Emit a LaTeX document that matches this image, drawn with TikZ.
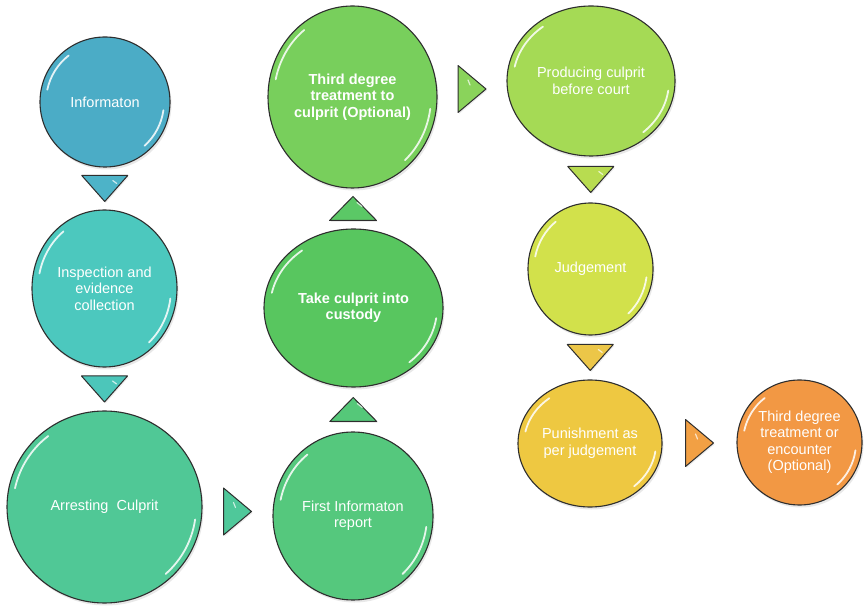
\documentclass[tikz,border=0pt]{standalone}
\usepackage{fontspec}
\setmainfont{Liberation Sans}
\usetikzlibrary{shapes.geometric,shadows,calc}
\definecolor{cA}{HTML}{4BACC6}
\definecolor{cB}{HTML}{4CC8BE}
\definecolor{cC}{HTML}{50C896}
\definecolor{cD}{HTML}{55C87D}
\definecolor{cE}{HTML}{58C65F}
\definecolor{cF}{HTML}{78CF5C}
\definecolor{cG}{HTML}{A5DA55}
\definecolor{cH}{HTML}{D2E14B}
\definecolor{cI}{HTML}{EEC841}
\definecolor{cJ}{HTML}{F29844}
\definecolor{tA}{HTML}{4DB3C8}
\definecolor{tB}{HTML}{4CC6BA}
\definecolor{tC}{HTML}{4FC89A}
\definecolor{tD}{HTML}{55C879}
\definecolor{tE}{HTML}{5BC866}
\definecolor{tF}{HTML}{8AD35B}
\definecolor{tG}{HTML}{B8DC50}
\definecolor{tH}{HTML}{ECC648}
\definecolor{tI}{HTML}{F2A044}
\definecolor{edge}{HTML}{2E2E2E}
\tikzset{
  stepnode/.style={ellipse, draw=edge, line width=1.1pt, inner sep=0pt,
    text=white, align=center,
    font=\fontsize{14.5}{16.5}\selectfont,
    drop shadow={opacity=0.18, shadow xshift=1.5pt, shadow yshift=-2.5pt}},
  boldtext/.style={font=\fontsize{14.5}{16.5}\selectfont\bfseries},
  tri/.style={draw=edge, line width=1pt, line join=round,
    drop shadow={opacity=0.15, shadow xshift=1pt, shadow yshift=-1.5pt}},
  hl/.style={white, opacity=0.85, line width=1.8pt, line cap=round},
  thl/.style={white, opacity=0.7, line width=1.2pt, line cap=round},
  pics/tdown/.style={code={\draw[tri,fill=#1] (-23,13) -- (23,13) -- (0,-13) -- cycle;
      \draw[thl] (8,8) -- (12,5);}},
  pics/tup/.style={code={\draw[tri,fill=#1] (-23.5,-12) -- (23.5,-12) -- (0,12) -- cycle;
      \draw[thl] (4,6) -- (9,2);}},
  pics/tright/.style={code={\draw[tri,fill=#1] (-14,23.5) -- (14,0) -- (-14,-23.5) -- cycle;
      \draw[thl] (-4,9) -- (-2,4);}},
}
\begin{document}
\begin{tikzpicture}[x=1pt,y=1pt]
\useasboundingbox (0,0) rectangle (864,605);
\fill[white] (0,0) rectangle (864,605);

\node[stepnode, fill=cA, minimum width=130pt, minimum height=130pt] (n1) at (105,503) {Informaton};
\node[stepnode, fill=cB, minimum width=145pt, minimum height=157pt] (n2) at (104.5,316.5) {Inspection and\\evidence\\collection};
\node[stepnode, fill=cC, minimum width=195pt, minimum height=192pt] (n3) at (104.5,98) {Arresting\ \ Culprit};
\node[stepnode, fill=cD, minimum width=160pt, minimum height=168pt] (n4) at (353,89) {First Informaton\\report};
\node[stepnode, boldtext, fill=cE, minimum width=179pt, minimum height=158pt] (n5) at (353.5,297) {Take culprit into\\custody};
\node[stepnode, boldtext, fill=cF, minimum width=169pt, minimum height=182pt] (n6) at (352.5,508) {Third degree\\treatment to\\culprit (Optional)};
\node[stepnode, fill=cG, minimum width=168pt, minimum height=150pt] (n7) at (591,524) {Producing culprit\\before court};
\node[stepnode, fill=cH, minimum width=125pt, minimum height=132pt] (n8) at (590.5,336) {Judgement};
\node[stepnode, fill=cI, minimum width=144pt, minimum height=127pt] (n9) at (590,161.5) {Punishment as\\per judgement};
\node[stepnode, fill=cJ, minimum width=125pt, minimum height=125pt] (n10) at (799.5,162.5) {Third degree\\treatment or\\encounter\\(Optional)};

% glossy highlights
\foreach \n/\a/\b in {n1/65/65, n2/72.5/78.5, n3/97.5/96, n4/80/84, n5/89.5/79, n6/84.5/91, n7/84/75, n8/62.5/66, n9/72/63.5, n10/62.5/62.5}{
  \pgfmathsetmacro\ra{\a-6}
  \pgfmathsetmacro\rb{\b-6}
  \draw[hl] ($(\n.center)+({\ra*cos(168)},{\rb*sin(168)})$)
     arc[start angle=168, end angle=128, x radius=\ra, y radius=\rb];
  \draw[hl] ($(\n.center)+({\ra*cos(-8)},{\rb*sin(-8)})$)
     arc[start angle=-8, end angle=-48, x radius=\ra, y radius=\rb];
}

% triangle connectors
\pic (t1) at ($(n1.south)!0.5!(n2.north)$) {tdown=tA};
\pic (t2) at ($(n2.south)!0.5!(n3.north)$) {tdown=tB};
\pic (t3) at ($(n3.east)!0.5!(n4.west)$) {tright=tC};
\pic (t4) at ($(n4.north)!0.5!(n5.south)$) {tup=tD};
\pic (t5) at ($(n5.north)!0.5!(n6.south)$) {tup=tE};
\pic (t6) at ($(n6.east)!0.5!(n7.west)$) {tright=tF};
\pic (t7) at ($(n7.south)!0.5!(n8.north)$) {tdown=tG};
\pic (t8) at ($(n8.south)!0.5!(n9.north)$) {tdown=tH};
\pic (t9) at ($(n9.east)!0.5!(n10.west)$) {tright=tI};
\end{tikzpicture}
\end{document}
